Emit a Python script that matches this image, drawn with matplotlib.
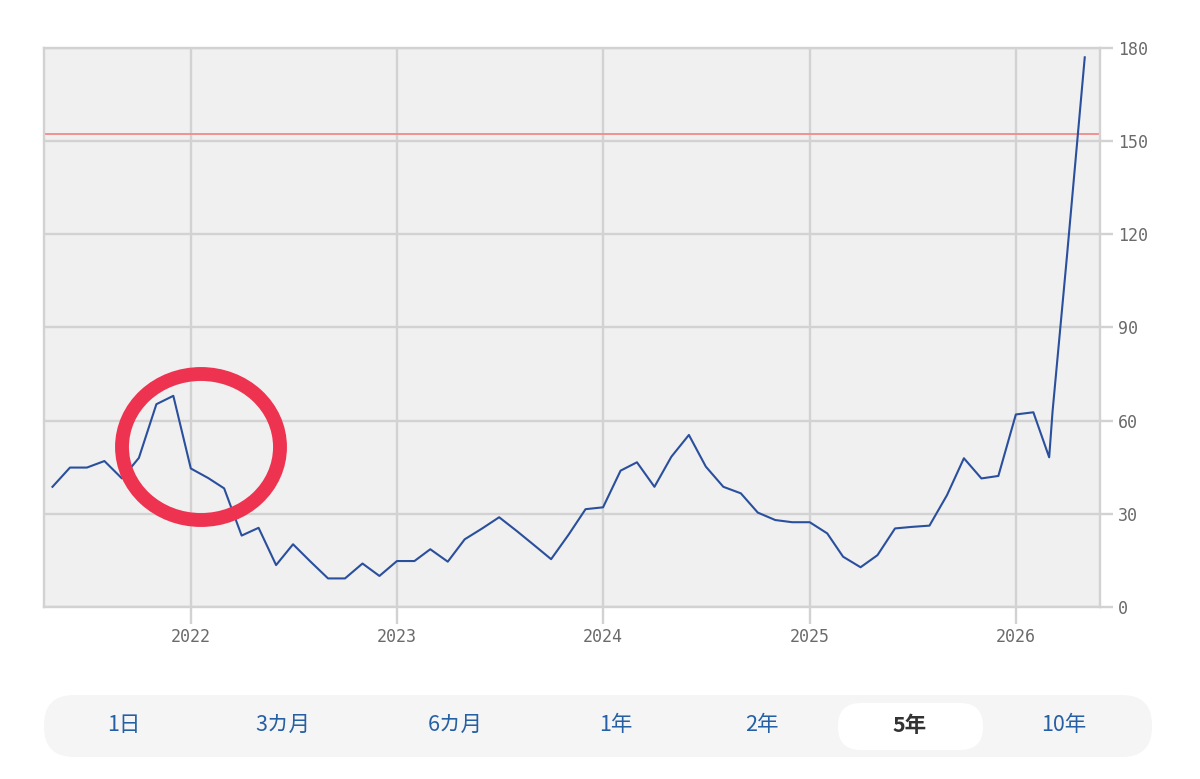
import pandas as pd
import numpy as np
import matplotlib.pyplot as plt
from matplotlib.patches import Ellipse, FancyBboxPatch

# monthly values (May 2021 .. Mar 2026), then the last sharp run-up
monthly_values = [38.7, 44.9, 44.9, 47.0, 41.4, 48.0, 65.3, 68.0,
                  44.6, 41.5, 38.2, 23.0, 25.5, 13.5, 20.2, 14.6, 9.2, 9.2, 14.0, 10.0,
                  14.8, 14.8, 18.6, 14.6, 21.8, 25.3, 28.9, 24.5, 19.9, 15.4, 23.3, 31.5,
                  32.1, 43.9, 46.6, 38.7, 48.4, 55.4, 45.2, 38.7, 36.6, 30.4, 28.0, 27.3,
                  27.3, 23.7, 16.2, 12.8, 16.7, 25.3, 25.8, 26.2, 36.0, 47.9, 41.4, 42.2,
                  62.0, 62.7, 48.2]
extra_dates = ["2026-03-07", "2026-04-01", "2026-05-03"]
extra_values = [63.0, 112.0, 177.0]

dates = list(pd.date_range("2021-05-01", "2026-03-01", freq="MS")) + [pd.Timestamp(d) for d in extra_dates]
values = monthly_values + extra_values

ref_level = 152.2
year_ticks = ["2022", "2023", "2024", "2025", "2026"]
y_ticks = [0, 30, 60, 90, 120, 150, 180]
buttons = ["1日", "3カ月", "6カ月", "1年", "2年", "5年", "10年"]
button_x = [124, 283, 455, 616, 762, 910, 1064]
selected = "5年"

W, H = 1200, 779
fig = plt.figure(figsize=(W / 100, H / 100), dpi=100)
ax = fig.add_axes([44 / W, 1 - 607 / H, (1100 - 44) / W, (607 - 48) / H])
ax.set_facecolor("#f0f0f0")

grid_c = "#d2d2d2"
ax.plot(dates, values, color="#2a4f9c", lw=1.5, zorder=3)
ax.axhline(ref_level, color="#f08a8a", lw=1.3, zorder=2)

ax.set_ylim(0, 180)
ax.set_xlim(pd.Timestamp("2021-04-16"), pd.Timestamp("2026-05-30"))
ax.set_yticks(y_ticks)
ax.set_xticks([pd.Timestamp(y + "-01-01") for y in year_ticks])
ax.set_xticklabels(year_ticks)
ax.yaxis.tick_right()
ax.grid(True, color=grid_c, lw=1.7, zorder=1)
ax.set_axisbelow(True)
for s in ax.spines.values():
    s.set_color(grid_c)
    s.set_linewidth(1.7)
ax.tick_params(axis="y", length=9, width=1.7, color=grid_c, pad=4,
               labelsize=12, labelcolor="#6a6a6a")
ax.tick_params(axis="x", length=12, width=1.7, color=grid_c, pad=3,
               labelsize=12, labelcolor="#6a6a6a")
for lab in ax.get_xticklabels() + ax.get_yticklabels():
    lab.set_family("DejaVu Sans Mono")

# overlay in pixel coordinates for the circle and the range selector
ov = fig.add_axes([0, 0, 1, 1], zorder=5)
ov.set_xlim(0, W)
ov.set_ylim(H, 0)
ov.axis("off")
ov.patch.set_alpha(0)

ov.add_patch(Ellipse((201, 447), 158, 146, fill=False, edgecolor="#ee3350", lw=10))

ov.add_patch(FancyBboxPatch((44, 695), 1108, 62, boxstyle="round,pad=0,rounding_size=30",
                            facecolor="#f5f5f5", edgecolor="none"))
ov.add_patch(FancyBboxPatch((838, 703), 145, 47, boxstyle="round,pad=0,rounding_size=23",
                            facecolor="white", edgecolor="none"))
for lab, x in zip(buttons, button_x):
    sel = lab == selected
    ov.text(x, 725, lab, ha="center", va="center", fontsize=15.5,
            family=["Noto Sans CJK JP", "DejaVu Sans"],
            color="#333333" if sel else "#2660a4",
            fontweight="bold" if sel else "normal")

fig.savefig("out.png", dpi=100)
